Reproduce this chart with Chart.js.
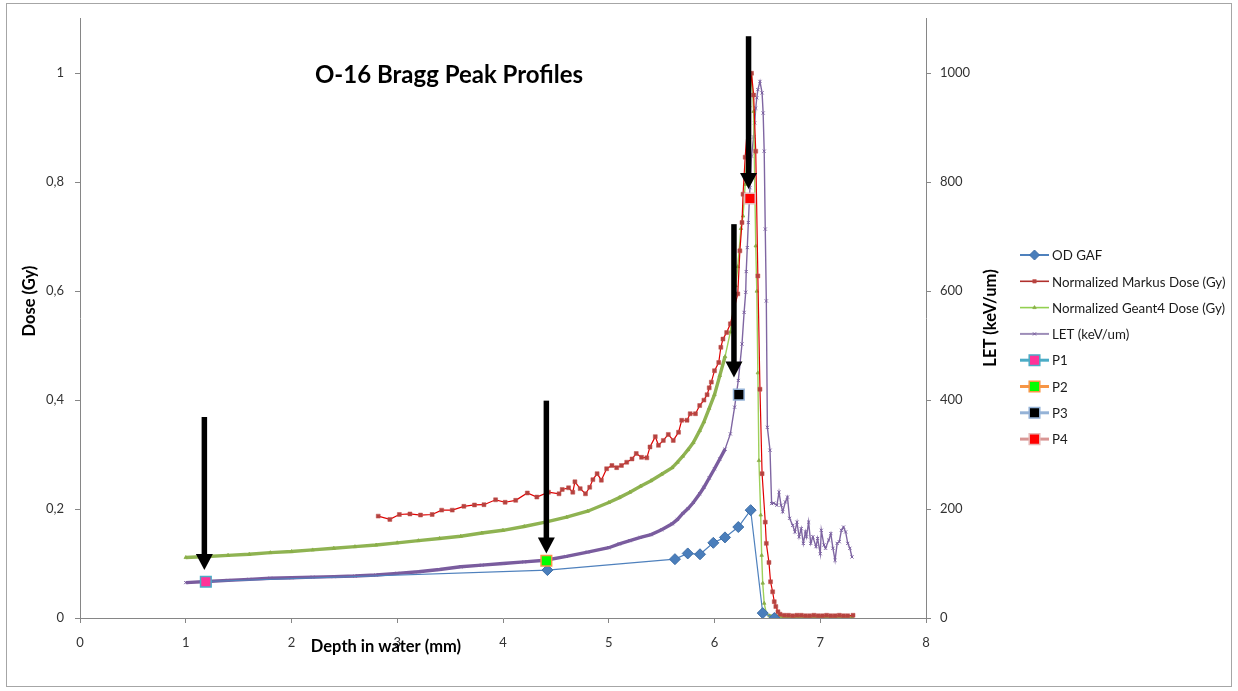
<!DOCTYPE html>
<html><head><meta charset="utf-8">
<script src="https://cdn.jsdelivr.net/npm/chart.js@4/dist/chart.umd.min.js"></script>
<style>html,body{margin:0;padding:0;background:#fff;}#wrap{width:1238px;height:691px;}</style>
</head><body><div id="wrap"><canvas id="c" width="1238" height="691"></canvas></div>
<script>
// ---------- data ----------
const chartTitle = "O-16 Bragg Peak Profiles";
const xTitle = "Depth in water (mm)";
const yTitle = "Dose (Gy)";
const y1Title = "LET (keV/um)";
const xTicks = [0,1,2,3,4,5,6,7,8];
const doseTicks = [0,0.2,0.4,0.6,0.8,1];
const letTicks = [0,200,400,600,800,1000];

const seriesNames = ["OD GAF","Normalized Markus Dose (Gy)","Normalized Geant4 Dose (Gy)","LET (keV/um)","P1","P2","P3","P4"];

const odGafX = [1.19,4.42,5.626,5.747,5.863,5.989,6.099,6.225,6.342,6.456,6.566];
const odGafY = [0.067,0.088,0.108,0.1185,0.117,0.138,0.148,0.167,0.198,0.009,0.0];

const markusX = [2.82,2.93,3.02,3.12,3.22,3.33,3.42,3.52,3.63,3.73,3.82,3.93,4.02,4.12,4.23,4.32,4.43,4.53,4.56,4.62,4.66,4.68,4.73,4.78,4.82,4.85,4.89,4.93,4.98,5.03,5.075,5.12,5.17,5.22,5.26,5.31,5.36,5.39,5.44,5.47,5.516,5.563,5.61,5.66,5.69,5.74,5.77,5.82,5.86,5.9,5.93,5.95,5.97,6.0,6.04,6.06,6.08,6.115,6.15,6.22,6.24,6.26,6.27,6.29,6.35,6.37,6.39,6.41,6.43,6.45,6.48,6.49,6.515,6.53,6.55,6.565,6.58,6.60,6.62,6.66,6.70,6.74,6.78,6.82,6.86,6.90,6.94,6.98,7.02,7.06,7.10,7.14,7.18,7.22,7.26,7.31];
const markusY = [0.187,0.181,0.190,0.191,0.189,0.190,0.198,0.198,0.205,0.2075,0.208,0.217,0.2125,0.216,0.2295,0.222,0.231,0.228,0.236,0.239,0.231,0.250,0.2375,0.228,0.240,0.254,0.265,0.253,0.274,0.280,0.276,0.280,0.286,0.292,0.302,0.295,0.294,0.314,0.333,0.317,0.326,0.337,0.326,0.341,0.363,0.363,0.375,0.375,0.390,0.400,0.410,0.4225,0.433,0.454,0.469,0.497,0.512,0.524,0.540,0.595,0.674,0.726,0.778,0.846,1.0,0.96,0.857,0.628,0.42,0.265,0.176,0.137,0.102,0.0665,0.048,0.030,0.021,0.0115,0.007,0.005,0.005,0.004,0.005,0.005,0.004,0.004,0.005,0.004,0.004,0.005,0.004,0.004,0.005,0.004,0.004,0.005];

const geantX = [1.0,1.2,1.4,1.6,1.8,2.0,2.2,2.4,2.6,2.8,3.0,3.2,3.4,3.6,3.8,4.0,4.2,4.4,4.6,4.8,5.0,5.1,5.2,5.3,5.4,5.5,5.6,5.65,5.7,5.75,5.8,5.86,5.9,5.95,6.0,6.05,6.1,6.15,6.2,6.22,6.25,6.27,6.29,6.31,6.33,6.35,6.37,6.39,6.40,6.41,6.42,6.437,6.446,6.456,6.47,6.49,6.52,6.56,6.6,6.65,6.7,6.75,6.8,6.85,6.9,6.95,7.0,7.05,7.1,7.15,7.2,7.25,7.3];
const geantY = [0.111,0.113,0.115,0.117,0.120,0.122,0.125,0.128,0.131,0.134,0.138,0.142,0.146,0.150,0.156,0.161,0.168,0.176,0.185,0.196,0.212,0.221,0.231,0.242,0.252,0.264,0.276,0.286,0.297,0.309,0.322,0.344,0.360,0.385,0.410,0.445,0.480,0.525,0.610,0.645,0.715,0.738,0.796,0.86,0.94,1.0,0.93,0.683,0.60,0.45,0.289,0.189,0.115,0.064,0.027,0.009,0.004,0.003,0.003,0.003,0.002,0.002,0.002,0.002,0.002,0.002,0.002,0.002,0.002,0.002,0.002,0.002,0.002];

const letX = [1.0,1.2,1.4,1.6,1.8,2.0,2.2,2.4,2.6,2.8,3.0,3.2,3.4,3.6,3.8,4.0,4.2,4.4,4.6,4.8,5.0,5.1,5.2,5.3,5.4,5.5,5.6,5.65,5.7,5.75,5.8,5.86,5.9,5.95,6.0,6.05,6.1,6.15,6.19,6.225,6.26,6.28,6.295,6.30,6.31,6.32,6.335,6.35,6.37,6.38,6.39,6.40,6.41,6.43,6.45,6.46,6.47,6.48,6.49,6.50,6.525,6.54,6.56,6.59,6.61,6.63,6.645,6.67,6.69,6.71,6.74,6.76,6.78,6.80,6.82,6.84,6.86,6.87,6.89,6.91,6.93,6.96,6.975,7.0,7.01,7.035,7.05,7.08,7.10,7.12,7.14,7.16,7.18,7.20,7.22,7.24,7.26,7.28,7.30];
const letY = [65,67,69,71,73,74,75,76,77,79,82,85,89,94,97,100,103,106,113,121,129,136,142,148,153,162,173,181,192,201,212,228,240,257,274,292,310,338,387,436,503,561,598,636,680,726,790,848,883,909,936,955,970,985,964,927,857,714,582,350,308,210,211,207,231,207,195,213,222,183,170,158,176,149,164,137,158,149,176,137,149,131,146,118,161,134,128,143,155,128,106,137,140,161,167,158,137,128,112];

const pointsX = [1.19,4.41,6.23,6.335];
const pointsY = [0.0665,0.105,0.41,0.77];

// arrows (depth, dose top, dose tip)
const arrowX = [1.176,4.41,6.184,6.322];
const arrowTop = [0.369,0.399,0.723,1.068];
const arrowTip = [0.088,0.1185,0.4414,0.7875];

// ---------- styles ----------
const FONT = "Lato, 'Open Sans', sans-serif";
const AXIS = '#868686';
const zip = (xs, ys) => xs.map((x, i) => ({x, y: ys[i]}));
const dense = x => x < 6.1 || x > 6.5;

const pStyles = [
  {fill:'#FF3399', border:'#4BACC6', line:'#4BACC6'},
  {fill:'#00FF00', border:'#F79646', line:'#F79646'},
  {fill:'#000000', border:'#95B3D7', line:'#95B3D7'},
  {fill:'#FF0000', border:'#E6B9B8', line:'#D99694'}
];

const datasets = [
  {label: seriesNames[0], data: zip(odGafX, odGafY), yAxisID:'y', order:1,
   borderColor:'#4F81BD', backgroundColor:'#4F81BD', borderWidth:1.2,
   pointStyle:'rectRot', pointRadius:5.5, pointBorderWidth:1, pointBorderColor:'#3F6FA8', pointBackgroundColor:'#4A7EBB'},
  {label: seriesNames[1], data: zip(markusX, markusY), yAxisID:'y', order:2,
   borderColor:'#E00000', borderWidth:1.2,
   pointStyle:'rect', pointRadius:2.8, pointBorderWidth:0.5, pointBackgroundColor:'#B5423F', pointBorderColor:'#C0504D'},
  {label: seriesNames[2], data: zip(geantX, geantY), yAxisID:'y', order:3,
   borderColor:'#9DC95A', borderWidth:1.3,
   segment:{borderWidth: c => dense(c.p0.parsed.x) ? 3.4 : 1.4,
            borderColor: c => dense(c.p0.parsed.x) ? '#8FB352' : '#9DD05A'},
   pointStyle:'triangle', pointRadius:2, pointBorderWidth:0.8, pointBackgroundColor:'#8AAE48', pointBorderColor:'#8AAE48'},
  {label: seriesNames[3], data: zip(letX, letY), yAxisID:'y1', order:4,
   borderColor:'#7F66A2', borderWidth:1.3,
   segment:{borderWidth: c => c.p0.parsed.x < 6.1 ? 3.4 : 1.4,
            borderColor: c => c.p0.parsed.x < 6.1 ? '#7A5C9E' : '#7F66A2'},
   pointStyle:'crossRot', pointRadius:2.2, pointBorderWidth:1, pointBorderColor:'#7A5FA0', pointBackgroundColor:'#7A5FA0'},
];
pointsX.forEach((px, i) => {
  datasets.push({label: seriesNames[4+i], data:[{x:px, y:pointsY[i]}], yAxisID:'y', order:0,
    showLine:false, pointStyle:'rect', pointRadius:7.5, pointBorderWidth:1.5,
    pointBackgroundColor:pStyles[i].fill, pointBorderColor:pStyles[i].border,
    borderColor:pStyles[i].line, backgroundColor:pStyles[i].fill});
});

const overlay = {
  id:'overlay',
  beforeDraw(chart){
    const ctx = chart.ctx;
    ctx.save(); ctx.fillStyle='#fff'; ctx.fillRect(0,0,chart.width,chart.height); ctx.restore();
  },
  afterDatasetsDraw(chart){
    const ctx = chart.ctx, xs = chart.scales.x, ys = chart.scales.y;
    ctx.save();
    ctx.fillStyle = '#000';
    arrowX.forEach((ax, i) => {
      const x = xs.getPixelForValue(ax), y0 = ys.getPixelForValue(arrowTop[i]), y1 = ys.getPixelForValue(arrowTip[i]);
      const hh = 16, hw = 17, sw = 5.5;
      ctx.fillRect(x - sw/2, y0, sw, (y1 - hh) - y0 + 1);
      ctx.beginPath(); ctx.moveTo(x - hw/2, y1 - hh); ctx.lineTo(x + hw/2, y1 - hh); ctx.lineTo(x, y1); ctx.closePath(); ctx.fill();
    });
    ctx.restore();
  },
  afterDraw(chart){
    const ctx = chart.ctx;
    ctx.save();
    // outer frame
    ctx.strokeStyle = '#A6A6A6'; ctx.lineWidth = 1;
    ctx.strokeRect(6.5, 3.5, 1225, 683);
    // chart title
    ctx.fillStyle = '#000'; ctx.textAlign='center'; ctx.textBaseline='middle';
    ctx.font = "bold 24px " + FONT;
    ctx.fillText(chartTitle, 449, 75);
    // axis titles
    ctx.font = "bold 16.5px " + FONT;
    ctx.fillText(xTitle, 386, 647);
    ctx.save(); ctx.translate(30, 301); ctx.rotate(-Math.PI/2); ctx.fillText(yTitle, 0, 0); ctx.restore();
    ctx.save(); ctx.translate(991, 318); ctx.rotate(-Math.PI/2); ctx.fillText(y1Title, 0, 0); ctx.restore();
    // legend
    const lx0 = 1020, lx1 = 1049, tx = 1052, y0 = 255, dy = 26.3;
    ctx.font = "13.3px " + FONT; ctx.textAlign='left';
    const legendLine = ['#4F81BD','#B0302C','#92D050','#9D8DB8', pStyles[0].line, pStyles[1].line, pStyles[2].line, pStyles[3].line];
    const legendLW = [2,1.6,1.6,2,3,3,3,3];
    chart.data.datasets.forEach((ds, i) => {
      const y = y0 + i*dy;
      ctx.strokeStyle = legendLine[i]; ctx.lineWidth = legendLW[i];
      ctx.beginPath(); ctx.moveTo(lx0, y); ctx.lineTo(lx1, y); ctx.stroke();
      const mx = (lx0+lx1)/2;
      ctx.fillStyle = ds.pointBackgroundColor; ctx.strokeStyle = ds.pointBorderColor;
      let r = ds.pointRadius, bw = ds.pointBorderWidth;
      if (i === 0) r = 5;
      if (i === 1) r = 2.5;
      if (i >= 4) r = 7.5;
      ctx.lineWidth = bw;
      Chart.helpers.drawPoint(ctx, {pointStyle: ds.pointStyle, radius: r, rotation: 0, borderWidth: bw}, mx, y);
      ctx.fillStyle = '#1a1a1a';
      ctx.fillText(ds.label, tx, y + 1);
    });
    ctx.restore();
  }
};

const tickFont = {family: FONT, size: 13};
new Chart(document.getElementById('c'), {
  type:'scatter',
  data:{datasets},
  options:{
    responsive:false, animation:false, devicePixelRatio:1,
    showLine:true,
    layout:{padding:{left:0, right:232, top:17, bottom:23}},
    plugins:{legend:{display:false}, tooltip:{enabled:false}, title:{display:false}},
    elements:{line:{tension:0}},
    scales:{
      x:{type:'linear', position:'bottom', min:0, max:8,
        afterBuildTicks: s => { s.ticks = xTicks.map(v => ({value:v})); },
        afterFit: s => { s.height = 50; },
        ticks:{font:tickFont, color:'#333', padding:12, maxRotation:0, autoSkip:false, callback: v => String(v)},
        grid:{display:true, drawOnChartArea:false, drawTicks:true, tickLength:5, color:AXIS},
        border:{display:true, color:AXIS, width:1}},
      y:{type:'linear', position:'left', min:0, max:1.1,
        afterBuildTicks: s => { s.ticks = doseTicks.map(v => ({value:v})); },
        afterFit: s => { s.width = 80; },
        ticks:{font:tickFont, color:'#333', padding:11, callback: v => String(v).replace('.', ',')},
        grid:{display:true, drawOnChartArea:false, drawTicks:true, tickLength:5, color:AXIS},
        border:{display:true, color:AXIS, width:1}},
      y1:{type:'linear', position:'right', min:0, max:1100,
        afterBuildTicks: s => { s.ticks = letTicks.map(v => ({value:v})); },
        afterFit: s => { s.width = 80; },
        ticks:{font:tickFont, color:'#333', padding:9, callback: v => String(v)},
        grid:{display:true, drawOnChartArea:false, drawTicks:true, tickLength:5, color:AXIS},
        border:{display:true, color:AXIS, width:1}}
    }
  },
  plugins:[overlay]
});
</script></body></html>
